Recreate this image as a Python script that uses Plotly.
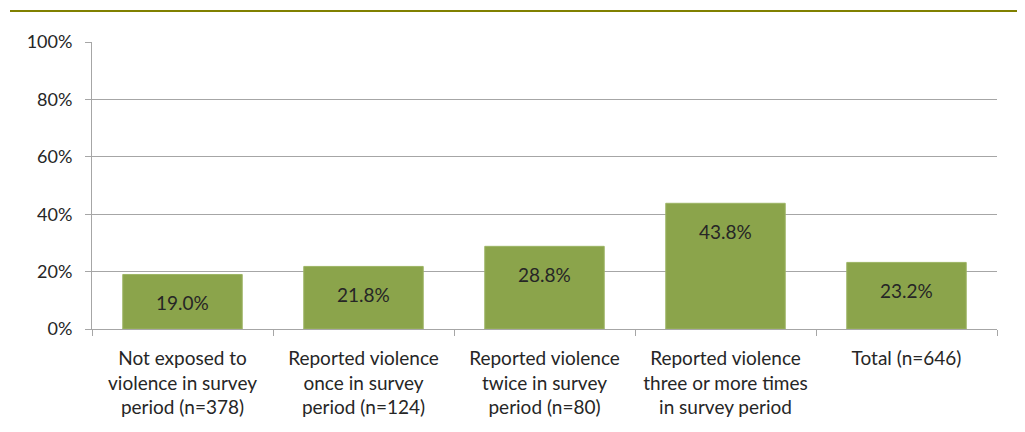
import plotly.graph_objects as go

categories = [
    "Not exposed to<br>violence in survey<br>period (n=378)",
    "Reported violence<br>once in survey<br>period (n=124)",
    "Reported violence<br>twice in survey<br>period (n=80)",
    "Reported violence<br>three or more times<br>in survey period",
    "Total (n=646)<br> <br> ",
]
values = [19.0, 21.8, 28.8, 43.8, 23.2]
labels = ["19.0%", "21.8%", "28.8%", "43.8%", "23.2%"]
y_ticks = [0, 20, 40, 60, 80, 100]
y_ticktext = ["0%", "20%", "40%", "60%", "80%", "100%"]

FONT = "Lato, 'Open Sans', sans-serif"
TXT = "#262626"

# page body has an 8px margin: plot area target x 92..997, y 42..329
fig = go.Figure()
fig.add_trace(go.Bar(
    x=categories, y=values,
    marker=dict(color="#8BA44B", line=dict(color="#9db565", width=1)),
    width=0.66,
    hoverinfo="skip",
))
for c, v, t in zip(categories, values, labels):
    fig.add_annotation(x=c, y=v, text=t, showarrow=False, yshift=-28,
                       yanchor="middle", font=dict(family=FONT, size=19, color=TXT))

fig.add_shape(type="line", xref="paper", yref="paper", x0=-0.0906, x1=1.1,
              y0=1.108, y1=1.108, line=dict(color="#808000", width=2))

fig.update_layout(
    width=1025, height=432,
    margin=dict(l=84, r=36, t=34, b=111),
    paper_bgcolor="white", plot_bgcolor="white",
    font=dict(family=FONT, size=18, color=TXT),
    showlegend=False,
    bargap=0.34,
)
fig.update_yaxes(range=[0, 100], tickvals=y_ticks, ticktext=y_ticktext,
                 showgrid=True, gridcolor="#A6A6A6", gridwidth=1,
                 showline=True, linecolor="#A6A6A6", linewidth=1,
                 ticks="outside", ticklen=6, tickcolor="#A6A6A6",
                 tickfont=dict(size=18), ticklabelstandoff=9,
                 zeroline=False, fixedrange=True)
fig.update_xaxes(showline=True, linecolor="#A6A6A6", linewidth=1,
                 ticks="outside", ticklen=6, tickcolor="#A6A6A6",
                 tickfont=dict(size=19), ticklabelstandoff=12,
                 tickson="boundaries", tickangle=0, fixedrange=True)

fig.write_html("out.html")
